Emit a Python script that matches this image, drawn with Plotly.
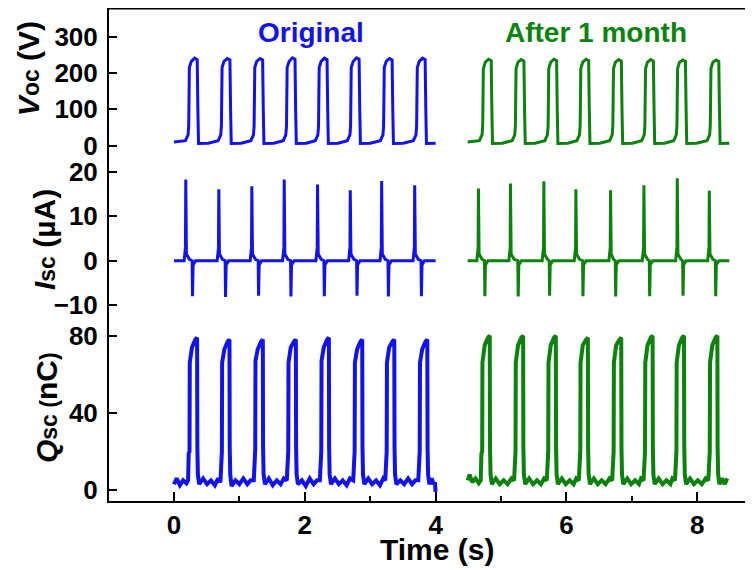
import plotly.graph_objects as go

# ---------------- data ----------------
# Voc (V), original
voc_orig_t = [0.00, 0.08,
              0.175, 0.215, 0.225, 0.235, 0.265, 0.315, 0.355, 0.365, 0.375, 0.525,
              0.675, 0.715, 0.725, 0.735, 0.765, 0.815, 0.855, 0.865, 0.875, 1.025,
              1.175, 1.215, 1.225, 1.235, 1.265, 1.315, 1.355, 1.365, 1.375, 1.525,
              1.67, 1.71, 1.72, 1.73, 1.76, 1.81, 1.85, 1.86, 1.87, 2.02,
              2.16, 2.20, 2.21, 2.22, 2.25, 2.30, 2.34, 2.35, 2.36, 2.51,
              2.65, 2.69, 2.70, 2.71, 2.74, 2.79, 2.83, 2.84, 2.85, 3.00,
              3.155, 3.195, 3.205, 3.215, 3.245, 3.295, 3.335, 3.345, 3.355, 3.505,
              3.66, 3.70, 3.71, 3.72, 3.75, 3.80, 3.84, 3.85, 3.86, 4.00]
voc_orig_v = [10, 11,
              14, 30, 55, 215, 232, 241, 237, 100, 6, 7,
              14, 30, 55, 215, 232, 240, 236, 100, 6, 7,
              14, 30, 55, 215, 232, 240, 236, 100, 6, 7,
              14, 30, 55, 215, 232, 242, 238, 100, 6, 7,
              14, 30, 55, 215, 232, 241, 237, 100, 6, 7,
              14, 30, 55, 215, 232, 242, 238, 100, 6, 7,
              14, 30, 55, 215, 232, 240, 236, 100, 6, 7,
              14, 30, 55, 215, 232, 241, 237, 100, 6, 7]

# Voc (V), after 1 month
voc_month_t = [4.49, 4.58,
               4.67, 4.71, 4.72, 4.73, 4.76, 4.81, 4.85, 4.86, 4.87, 5.02,
               5.17, 5.21, 5.22, 5.23, 5.26, 5.31, 5.35, 5.36, 5.37, 5.52,
               5.67, 5.71, 5.72, 5.73, 5.76, 5.81, 5.85, 5.86, 5.87, 6.02,
               6.16, 6.20, 6.21, 6.22, 6.25, 6.30, 6.34, 6.35, 6.36, 6.51,
               6.66, 6.70, 6.71, 6.72, 6.75, 6.80, 6.84, 6.85, 6.86, 7.01,
               7.15, 7.19, 7.20, 7.21, 7.24, 7.29, 7.33, 7.34, 7.35, 7.50,
               7.64, 7.68, 7.69, 7.70, 7.73, 7.78, 7.82, 7.83, 7.84, 7.99,
               8.15, 8.19, 8.20, 8.21, 8.24, 8.29, 8.33, 8.34, 8.35, 8.49]
voc_month_v = [10, 11,
               14, 30, 55, 212, 230, 238, 234, 100, 6, 7,
               14, 30, 55, 212, 230, 237, 233, 100, 6, 7,
               14, 30, 55, 212, 230, 238, 234, 100, 6, 7,
               14, 30, 55, 212, 230, 238, 234, 100, 6, 7,
               14, 30, 55, 212, 230, 237, 233, 100, 6, 7,
               14, 30, 55, 212, 230, 237, 233, 100, 6, 7,
               14, 30, 55, 212, 230, 236, 232, 100, 6, 7,
               14, 30, 55, 212, 230, 236, 232, 100, 6, 7]

# Isc (uA), original
isc_orig_t = [0.00,
              0.155, 0.175, 0.18, 0.19, 0.235, 0.277, 0.283, 0.292, 0.33,
              0.66, 0.68, 0.685, 0.695, 0.74, 0.782, 0.788, 0.797, 0.835,
              1.165, 1.185, 1.19, 1.20, 1.245, 1.287, 1.293, 1.302, 1.34,
              1.66, 1.68, 1.685, 1.695, 1.74, 1.782, 1.788, 1.797, 1.835,
              2.17, 2.19, 2.195, 2.205, 2.25, 2.292, 2.298, 2.307, 2.345,
              2.67, 2.69, 2.695, 2.705, 2.75, 2.792, 2.798, 2.807, 2.845,
              3.15, 3.17, 3.175, 3.185, 3.23, 3.272, 3.278, 3.287, 3.325,
              3.655, 3.675, 3.68, 3.69, 3.735, 3.777, 3.783, 3.792, 3.83,
              4.00]
isc_orig_v = [0,
              0, 3, 18.3, 1.5, 0.3, 0, -8.0, -1, 0,
              0, 3, 16.1, 1.5, 0.3, 0, -8.2, -1, 0,
              0, 3, 16.8, 1.5, 0.3, 0, -7.9, -1, 0,
              0, 3, 18.3, 1.5, 0.3, 0, -8.1, -1, 0,
              0, 3, 17.2, 1.5, 0.3, 0, -8.0, -1, 0,
              0, 3, 15.9, 1.5, 0.3, 0, -7.9, -1, 0,
              0, 3, 18.0, 1.5, 0.3, 0, -8.1, -1, 0,
              0, 3, 17.0, 1.5, 0.3, 0, -8.0, -1, 0,
              0]

# Isc (uA), after 1 month
isc_month_t = [4.49,
               4.63, 4.65, 4.655, 4.665, 4.71, 4.747, 4.753, 4.762, 4.80,
               5.12, 5.14, 5.145, 5.155, 5.20, 5.257, 5.263, 5.272, 5.31,
               5.63, 5.65, 5.655, 5.665, 5.71, 5.737, 5.743, 5.752, 5.79,
               6.12, 6.14, 6.145, 6.155, 6.20, 6.247, 6.253, 6.262, 6.30,
               6.65, 6.67, 6.675, 6.685, 6.72, 6.747, 6.753, 6.762, 6.80,
               7.16, 7.18, 7.185, 7.195, 7.24, 7.267, 7.273, 7.282, 7.32,
               7.67, 7.69, 7.695, 7.705, 7.75, 7.777, 7.783, 7.792, 7.83,
               8.16, 8.18, 8.185, 8.195, 8.24, 8.277, 8.283, 8.292, 8.33,
               8.49]
isc_month_v = [0,
               0, 3, 16.3, 1.5, 0.3, 0, -8.0, -1, 0,
               0, 3, 17.4, 1.5, 0.3, 0, -8.1, -1, 0,
               0, 3, 17.9, 1.5, 0.3, 0, -7.9, -1, 0,
               0, 3, 16.1, 1.5, 0.3, 0, -8.0, -1, 0,
               0, 3, 15.9, 1.5, 0.3, 0, -8.1, -1, 0,
               0, 3, 17.0, 1.5, 0.3, 0, -8.0, -1, 0,
               0, 3, 18.6, 1.5, 0.3, 0, -7.9, -1, 0,
               0, 3, 15.8, 1.5, 0.3, 0, -8.0, -1, 0,
               0]

# Qsc (nC), original
qsc_orig_t = [0.00, 0.04, 0.09, 0.14, 0.19,
              0.215, 0.225, 0.237, 0.241, 0.275, 0.325, 0.353, 0.357, 0.365, 0.385, 0.445, 0.505, 0.565, 0.625, 0.675,
              0.71, 0.72, 0.732, 0.736, 0.77, 0.82, 0.848, 0.852, 0.86, 0.88, 0.94, 1.00, 1.06, 1.12, 1.17,
              1.22, 1.23, 1.242, 1.246, 1.28, 1.33, 1.358, 1.362, 1.37, 1.39, 1.45, 1.51, 1.57, 1.63, 1.68,
              1.725, 1.735, 1.747, 1.751, 1.785, 1.835, 1.863, 1.867, 1.875, 1.895, 1.955, 2.015, 2.075, 2.135, 2.185,
              2.23, 2.24, 2.252, 2.256, 2.29, 2.34, 2.368, 2.372, 2.38, 2.40, 2.46, 2.52, 2.58, 2.64, 2.69,
              2.74, 2.75, 2.762, 2.766, 2.80, 2.85, 2.878, 2.882, 2.89, 2.91, 2.97, 3.03, 3.09, 3.15, 3.20,
              3.23, 3.24, 3.252, 3.256, 3.29, 3.34, 3.368, 3.372, 3.38, 3.40, 3.46, 3.52, 3.58, 3.64, 3.69,
              3.735, 3.745, 3.757, 3.761, 3.795, 3.845, 3.873, 3.877, 3.885, 3.905, 3.94, 3.97, 3.99, 4.00]
qsc_orig_v = [3, 6, 2.5, 5, 3.5,
              5, 19, 20, 66, 74, 78, 79, 22, 8, 3, 6, 3, 5, 2.5, 6,
              4, 18, 20, 66, 73, 77, 78, 22, 8, 2, 5, 3, 6, 3, 5,
              5, 19, 21, 67, 73, 77, 78, 22, 8, 3, 6, 2.5, 5, 3, 6,
              5, 19, 20, 66, 74, 77, 78, 22, 8, 3, 5, 2, 6, 3, 5,
              5, 18, 20, 67, 74, 78, 79, 22, 8, 3, 6, 3, 5, 2.5, 6,
              5, 19, 20, 66, 73, 77, 78, 22, 8, 3, 6, 3, 5, 2.5, 6,
              5, 19, 20, 66, 74, 77, 78, 22, 8, 3, 5, 3, 6, 3, 5,
              5, 19, 20, 66, 73, 77, 78, 22, 8, 3, 6, 3, 4, -1]

# Qsc (nC), after 1 month
qsc_month_t = [4.49, 4.52, 4.56, 4.61, 4.66,
               4.69, 4.70, 4.712, 4.716, 4.75, 4.80, 4.828, 4.832, 4.84, 4.86, 4.92, 4.98, 5.04, 5.10, 5.16,
               5.20, 5.21, 5.222, 5.226, 5.26, 5.31, 5.338, 5.342, 5.35, 5.37, 5.43, 5.49, 5.55, 5.61, 5.66,
               5.70, 5.71, 5.722, 5.726, 5.76, 5.81, 5.838, 5.842, 5.85, 5.87, 5.93, 5.99, 6.05, 6.11, 6.15,
               6.19, 6.20, 6.212, 6.216, 6.25, 6.30, 6.328, 6.332, 6.34, 6.36, 6.42, 6.48, 6.54, 6.60, 6.66,
               6.70, 6.71, 6.722, 6.726, 6.76, 6.81, 6.838, 6.842, 6.85, 6.87, 6.93, 6.99, 7.05, 7.11, 7.14,
               7.18, 7.19, 7.202, 7.206, 7.24, 7.29, 7.318, 7.322, 7.33, 7.35, 7.41, 7.47, 7.53, 7.59, 7.62,
               7.66, 7.67, 7.682, 7.686, 7.72, 7.77, 7.798, 7.802, 7.81, 7.83, 7.89, 7.95, 8.01, 8.07, 8.13,
               8.17, 8.18, 8.192, 8.196, 8.23, 8.28, 8.308, 8.312, 8.32, 8.34, 8.38, 8.42, 8.46]
qsc_month_v = [5, 8, 4, 6, 3.5,
               5, 19, 20, 66, 75, 79, 80, 22, 8, 3, 6, 3, 5, 3, 6,
               5, 19, 20, 66, 75, 79, 80, 22, 8, 3, 6, 3, 5, 3, 6,
               5, 19, 20, 66, 75, 79, 80, 22, 8, 3, 6, 3, 5, 3, 6,
               5, 19, 20, 66, 75, 78, 79, 22, 8, 3, 6, 3, 5, 3, 6,
               5, 19, 20, 66, 75, 78, 79, 22, 8, 3, 6, 3, 5, 3, 6,
               5, 19, 20, 66, 75, 79, 80, 22, 8, 3, 6, 3, 5, 3, 6,
               5, 19, 20, 66, 75, 79, 80, 22, 8, 3, 6, 3, 5, 3, 6,
               5, 19, 20, 66, 75, 79, 80, 22, 8, 3, 6, 3, 6]

x_ticks = [0, 2, 4, 6, 8]
x_minor_ticks = [1, 3, 5, 7]
voc_ticks = [0, 100, 200, 300]
isc_ticks = [-10, 0, 10, 20]
qsc_ticks = [0, 40, 80]

# ---------------- style ----------------
BLUE = "#1212ee"
GREEN = "#0b820b"
FONT = "Arial, Liberation Sans, sans-serif"
tick_font = dict(family=FONT, size=26, color="black", weight="bold")

fig = go.Figure()
for t, v, col, ya, w in [
    (voc_orig_t, voc_orig_v, BLUE, "y", 3),
    (voc_month_t, voc_month_v, GREEN, "y", 3),
    (isc_orig_t, isc_orig_v, BLUE, "y2", 3),
    (isc_month_t, isc_month_v, GREEN, "y2", 3),
    (qsc_orig_t, qsc_orig_v, BLUE, "y3", 4),
    (qsc_month_t, qsc_month_v, GREEN, "y3", 4),
]:
    fig.add_trace(go.Scatter(x=t, y=v, mode="lines", xaxis="x", yaxis=ya,
                             line=dict(color=col, width=w), showlegend=False,
                             hoverinfo="skip"))

yax_common = dict(anchor="x", showline=True, linewidth=2, linecolor="black",
                  ticks="inside", ticklen=8, tickwidth=2, tickcolor="black",
                  showgrid=False, zeroline=False, tickfont=tick_font,
                  ticklabelstandoff=4)

# the page body adds an 8 px offset, so the margins are set to compensate
fig.update_layout(
    width=753, height=570,
    margin=dict(l=101, r=8, t=0, b=77),
    paper_bgcolor="white", plot_bgcolor="white",
    xaxis=dict(domain=[0, 1], range=[-0.994, 8.853], anchor="y3",
               tickvals=x_ticks, ticks="inside", ticklen=9, tickwidth=2,
               tickcolor="black", showline=True, linewidth=2, linecolor="black",
               showgrid=False, zeroline=False, tickfont=tick_font,
               minor=dict(tickvals=x_minor_ticks, ticks="inside", ticklen=5,
                          tickwidth=2, tickcolor="black", showgrid=False)),
    yaxis=dict(yax_common, domain=[0.6957, 1], range=[-33.9, 379.0], tickvals=voc_ticks),
    yaxis2=dict(yax_common, domain=[0.3712, 0.6957], range=[-12.93, 23.16], tickvals=isc_ticks),
    yaxis3=dict(yax_common, domain=[0, 0.3712], range=[-5.70, 89.2], tickvals=qsc_ticks),
    shapes=[dict(type="line", xref="paper", yref="paper", x0=0, x1=1, y0=1, y1=1,
                 line=dict(color="black", width=3))],
)

title_font = dict(family=FONT, size=28, color="black", weight="bold")
ytitle_font = dict(family=FONT, size=30, color="black", weight="bold")
small = "<span style='font-size:23px'>"
annos = [
    dict(text="Original", x=0.3144, y=0.9493, font=dict(title_font, color=BLUE)),
    dict(text="After 1 month", x=0.756, y=0.9493, font=dict(title_font, color=GREEN)),
    dict(text="Time (s)", x=0.509, y=-0.0975, font=dict(title_font, size=30)),
    dict(text="<i>V</i>" + small + "oc</span> (V)", x=-0.1258, y=0.878,
         textangle=-90, font=ytitle_font),
    dict(text="<i>I</i>" + small + "sc</span> (µA)", x=-0.1009, y=0.5294,
         textangle=-90, font=ytitle_font),
    dict(text="<i>Q</i>" + small + "sc (</span>nC" + small + ")</span>", x=-0.0978, y=0.1886,
         textangle=-90, font=ytitle_font),
]
for a in annos:
    fig.add_annotation(xref="paper", yref="paper", showarrow=False,
                       xanchor="center", yanchor="middle", **a)

fig.write_html("out.html")
